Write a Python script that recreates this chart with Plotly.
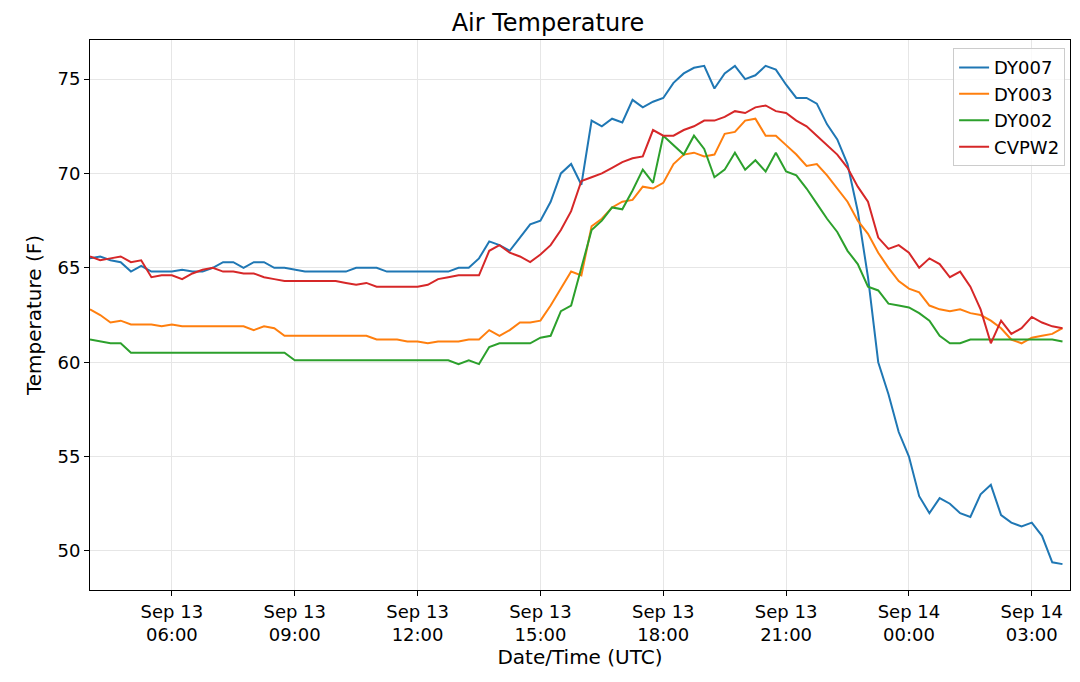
import plotly.graph_objects as go
import pandas as pd

times = pd.date_range("2023-09-13 04:00", periods=96, freq="15min")

dy007 = [65.5,65.6,65.4,65.3, 64.8,65.1,64.8,64.8, 64.8,64.9,64.8,64.8, 65.0,65.3,65.3,65.0,
         65.3,65.3,65.0,65.0, 64.9,64.8,64.8,64.8, 64.8,64.8,65.0,65.0, 65.0,64.8,64.8,64.8,
         64.8,64.8,64.8,64.8, 65.0,65.0,65.5,66.4, 66.2,65.9,66.6,67.3, 67.5,68.5,70.0,70.5,
         69.4,72.8,72.5,72.9, 72.7,73.9,73.5,73.8, 74.0,74.8,75.3,75.6, 75.7,74.5,75.3,75.7,
         75.0,75.2,75.7,75.5, 74.7,74.0,74.0,73.7, 72.6,71.8,70.5,68.0, 64.5,60.0,58.3,56.3,
         55.0,52.9,52.0,52.8, 52.5,52.0,51.8,53.0, 53.5,51.9,51.5,51.3, 51.5,50.8,49.4,49.3]
dy003 = [62.8,62.5,62.1,62.2, 62.0,62.0,62.0,61.9, 62.0,61.9,61.9,61.9, 61.9,61.9,61.9,61.9,
         61.7,61.9,61.8,61.4, 61.4,61.4,61.4,61.4, 61.4,61.4,61.4,61.4, 61.2,61.2,61.2,61.1,
         61.1,61.0,61.1,61.1, 61.1,61.2,61.2,61.7, 61.4,61.7,62.1,62.1, 62.2,63.0,63.9,64.8,
         64.6,67.2,67.6,68.2, 68.5,68.6,69.3,69.2, 69.5,70.5,71.0,71.1, 70.9,71.0,72.1,72.2,
         72.8,72.9,72.0,72.0, 71.5,71.0,70.4,70.5, 69.9,69.2,68.5,67.5, 66.8,65.8,65.0,64.3,
         63.9,63.7,63.0,62.8, 62.7,62.8,62.6,62.5, 62.2,61.8,61.2,61.0, 61.3,61.4,61.5,61.8]
dy002 = [61.2,61.1,61.0,61.0, 60.5,60.5,60.5,60.5, 60.5,60.5,60.5,60.5, 60.5,60.5,60.5,60.5,
         60.5,60.5,60.5,60.5, 60.1,60.1,60.1,60.1, 60.1,60.1,60.1,60.1, 60.1,60.1,60.1,60.1,
         60.1,60.1,60.1,60.1, 59.9,60.1,59.9,60.8, 61.0,61.0,61.0,61.0, 61.3,61.4,62.7,63.0,
         65.0,67.0,67.5,68.2, 68.1,69.1,70.2,69.5, 72.0,71.5,71.0,72.0, 71.3,69.8,70.2,71.1,
         70.2,70.7,70.1,71.1, 70.1,69.9,69.2,68.4, 67.6,66.9,65.9,65.2, 64.0,63.8,63.1,63.0,
         62.9,62.6,62.2,61.4, 61.0,61.0,61.2,61.2, 61.2,61.2,61.2,61.2, 61.2,61.2,61.2,61.1]
cvpw2 = [65.6,65.4,65.5,65.6, 65.3,65.4,64.5,64.6, 64.6,64.4,64.7,64.9, 65.0,64.8,64.8,64.7,
         64.7,64.5,64.4,64.3, 64.3,64.3,64.3,64.3, 64.3,64.2,64.1,64.2, 64.0,64.0,64.0,64.0,
         64.0,64.1,64.4,64.5, 64.6,64.6,64.6,65.9, 66.2,65.8,65.6,65.3, 65.7,66.2,67.0,68.0,
         69.6,69.8,70.0,70.3, 70.6,70.8,70.9,72.3, 72.0,72.0,72.3,72.5, 72.8,72.8,73.0,73.3,
         73.2,73.5,73.6,73.3, 73.2,72.8,72.5,72.0, 71.5,71.0,70.3,69.3, 68.5,66.6,66.0,66.2,
         65.8,65.0,65.5,65.2, 64.5,64.8,64.0,62.8, 61.0,62.2,61.5,61.8, 62.4,62.1,61.9,61.8]

names = ["DY007", "DY003", "DY002", "CVPW2"]
series = [dy007, dy003, dy002, cvpw2]
colors = ["#1f77b4", "#ff7f0e", "#2ca02c", "#d62728"]

tick_vals = pd.date_range("2023-09-13 06:00", periods=8, freq="3h")
tick_text = [t.strftime("%b %d<br>%H:%M") for t in tick_vals]

fig = go.Figure()
for n, s, c in zip(names, series, colors):
    fig.add_trace(go.Scatter(x=times, y=s, name=n, mode="lines", line=dict(color=c, width=2)))

axis_common = dict(showline=True, linecolor="black", mirror=True, ticks="outside",
                   tickcolor="black", showgrid=True, gridcolor="#e6e6e6", zeroline=False,
                   automargin=False)
fig.update_layout(
    width=1080, height=682, plot_bgcolor="white", paper_bgcolor="white",
    font=dict(family="DejaVu Sans", size=18, color="black"),
    title=dict(text="Air Temperature", x=0.5, xanchor="center", y=0.979, yanchor="middle",
               yref="container", font=dict(size=24)),
    margin=dict(l=82, r=18, t=32, b=100),
    legend=dict(x=0.995, y=0.985, xanchor="right", yanchor="top", bordercolor="#cccccc",
                borderwidth=1, bgcolor="rgba(255,255,255,0.8)", font=dict(size=18)),
    xaxis=dict(title=dict(text="Date/Time (UTC)", font=dict(size=20), standoff=4), tickvals=tick_vals,
               ticktext=tick_text, range=["2023-09-13 04:00", "2023-09-14 03:56"], **axis_common),
    yaxis=dict(title=dict(text="Temperature (F)", font=dict(size=20), standoff=10), range=[47.93, 77.07],
               tickvals=[50, 55, 60, 65, 70, 75], **axis_common),
)
fig.write_html("out.html")
